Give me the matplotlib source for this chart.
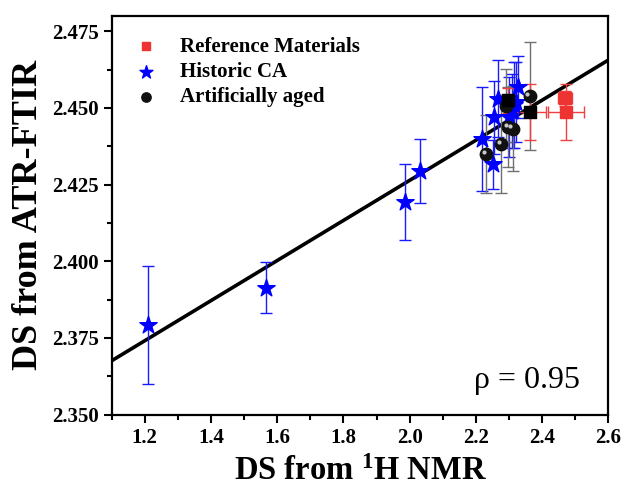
import numpy as np
import matplotlib
matplotlib.use("Agg")
import matplotlib.pyplot as plt
from matplotlib.ticker import MultipleLocator
from matplotlib.transforms import offset_copy

plt.rcParams['font.family'] = ['Liberation Serif', 'DejaVu Serif']
plt.rcParams['mathtext.fontset'] = 'custom'
plt.rcParams['mathtext.rm'] = 'Liberation Serif'
plt.rcParams['mathtext.bf'] = 'Liberation Serif:bold'

# Reference materials (red squares)
ref_x = [2.469, 2.472]
ref_y = [2.4532, 2.4487]
ref_xerr = [0.022, 0.055]
ref_yerr = [0.0025, 0.009]

# Unaged reference samples plotted as black squares with red error bars
sq_x = [2.296, 2.362]
sq_y = [2.4525, 2.4487]
sq_xerr = [0.012, 0.050]
sq_yerr = [0.004, 0.009]

# Historic cellulose acetate samples (blue stars)
hist_x = [1.211, 1.565, 1.987, 2.030, 2.219, 2.251, 2.256, 2.266,
          2.300, 2.310, 2.316, 2.321, 2.326]
hist_y = [2.3792, 2.3914, 2.4193, 2.4295, 2.4400, 2.4317, 2.4469, 2.4530,
          2.4470, 2.4490, 2.4510, 2.4519, 2.4568]
hist_yerr = [0.0194, 0.0084, 0.0124, 0.0104, 0.0170, 0.0080, 0.0120, 0.0125,
             0.0130, 0.0120, 0.0140, 0.0130, 0.0100]

# Artificially aged samples (black spheres)
aged_x = [2.231, 2.276, 2.291, 2.296, 2.311, 2.362]
aged_y = [2.4350, 2.4382, 2.4508, 2.4438, 2.4433, 2.4539]
aged_yerr = [0.0126, 0.0160, 0.0120, 0.0130, 0.0140, 0.0175]

# Linear fit
fit_slope = 0.0654
fit_intercept = 2.2956
rho_text = "\u03c1 = 0.95"

fig = plt.figure(figsize=(6.24, 4.96), dpi=100)
ax = fig.add_axes([0.179, 0.1643, 0.796, 0.8034])

xl = np.array([1.1, 2.6])
ax.plot(xl, fit_slope * xl + fit_intercept, color='black', lw=2.6, zorder=3)

ax.errorbar(hist_x, hist_y, yerr=hist_yerr, fmt='none', ecolor='#1a1aff',
            elinewidth=1.0, capsize=4, capthick=1.0, zorder=4)
ax.errorbar(aged_x, aged_y, yerr=aged_yerr, fmt='none', ecolor='#707070',
            elinewidth=1.0, capsize=4, capthick=1.0, zorder=4)
ax.errorbar(ref_x, ref_y, xerr=ref_xerr, yerr=ref_yerr, fmt='none',
            ecolor='#f04040', elinewidth=1.0, capsize=4, capthick=1.0, zorder=4)
ax.errorbar(sq_x, sq_y, xerr=sq_xerr, yerr=sq_yerr, fmt='none',
            ecolor='#f04040', elinewidth=1.0, capsize=4, capthick=1.0, zorder=4)

ax.scatter(ref_x, ref_y, marker='s', s=70, color='#ee3333', zorder=6,
           label='Reference Materials')
ax.scatter(hist_x, hist_y, marker='*', s=170, color='#0000ff', zorder=6,
           label='Historic CA')
ax.scatter(aged_x, aged_y, marker='o', s=80, color='#111111', zorder=6,
           label='Artificially aged')
# small highlight on each sphere
hl = offset_copy(ax.transData, fig=fig, x=-1.6, y=1.6, units='points')
ax.scatter(aged_x, aged_y, marker='o', s=9, color='#c8c8c8', zorder=6.5,
           transform=hl, linewidths=0)
ax.scatter(sq_x, sq_y, marker='s', s=70, color='#000000', zorder=7)

ax.set_xlim(1.1, 2.6)
ax.set_ylim(2.35, 2.48)
ax.xaxis.set_minor_locator(MultipleLocator(0.1))
ax.yaxis.set_minor_locator(MultipleLocator(0.0125))
ax.set_xticks([1.2, 1.4, 1.6, 1.8, 2.0, 2.2, 2.4, 2.6])
ax.set_xticklabels(['1.2', '1.4', '1.6', '1.8', '2.0', '2.2', '2.4', '2.6'])
ax.set_yticks([2.350, 2.375, 2.400, 2.425, 2.450, 2.475])
ax.set_yticklabels(['2.350', '2.375', '2.400', '2.425', '2.450', '2.475'])

ax.tick_params(which='major', direction='out', length=6, width=1.5,
               labelsize=15, top=False, right=False)
ax.tick_params(which='minor', direction='out', length=3.5, width=1.5,
               top=False, right=False)
for lab in ax.get_xticklabels() + ax.get_yticklabels():
    lab.set_fontweight('bold')
for sp in ax.spines.values():
    sp.set_linewidth(1.6)

ax.set_xlabel(r"DS from $\mathbf{^{1}}$H NMR", fontsize=23.5, fontweight='bold',
              labelpad=6)
ax.set_ylabel("DS from ATR-FTIR", fontsize=26, fontweight='bold', labelpad=5)

ax.text(2.354, 2.361, rho_text, fontsize=23, ha='center', va='center')

leg = ax.legend(loc='upper left', bbox_to_anchor=(-0.01, 0.995), frameon=False,
                prop={'weight': 'bold', 'size': 15}, handletextpad=0.6,
                labelspacing=0.25, markerscale=0.75, scatterpoints=1)

fig.savefig('out.png', dpi=100)
